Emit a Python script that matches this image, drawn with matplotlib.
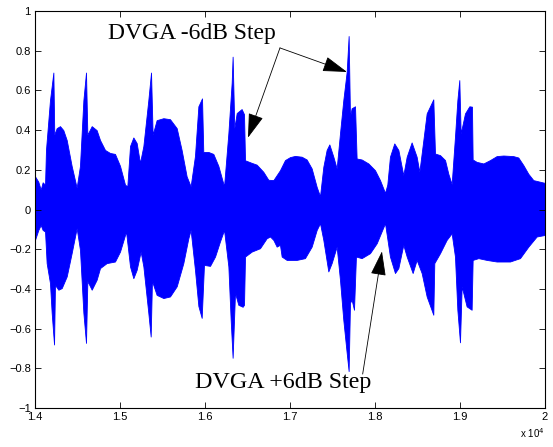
import numpy as np
import matplotlib
matplotlib.use('Agg')
import matplotlib.pyplot as plt

# envelope of the signal, x in units of 1e4 samples
x_top = [1.4, 1.4039, 1.4067, 1.4090, 1.4118, 1.4129, 1.4176, 1.4216, 1.4227, 1.4255, 1.4294,
         1.4333, 1.4373, 1.4431, 1.4490, 1.4529, 1.4569, 1.4600, 1.4616, 1.4667, 1.4725,
         1.4765, 1.4824, 1.4882, 1.4941, 1.5000, 1.5059, 1.5086, 1.5118, 1.5157, 1.5196,
         1.5235, 1.5275, 1.5333, 1.5365, 1.5384, 1.5431, 1.5510, 1.5588, 1.5667, 1.5725,
         1.5784, 1.5831, 1.5882, 1.5922, 1.5965, 1.5980, 1.6039, 1.6098, 1.6157, 1.6224,
         1.6275, 1.6314, 1.6325, 1.6345, 1.6373, 1.6431, 1.6459, 1.6471, 1.6549, 1.6608,
         1.6686, 1.6745, 1.6804, 1.6882, 1.6941, 1.7000, 1.7059, 1.7137, 1.7196, 1.7255,
         1.7314, 1.7353, 1.7392, 1.7431, 1.7463, 1.7510, 1.7549, 1.7588, 1.7627, 1.7667,
         1.7690, 1.7706, 1.7725, 1.7765, 1.7784, 1.7843, 1.7922, 1.8000, 1.8059, 1.8118,
         1.8145, 1.8176, 1.8227, 1.8275, 1.8333, 1.8373, 1.8431, 1.8490, 1.8522, 1.8569,
         1.8608, 1.8686, 1.8706, 1.8765, 1.8824, 1.8863, 1.8902, 1.8941, 1.8969, 1.8992,
         1.9008, 1.9059, 1.9110, 1.9141, 1.9149, 1.9196, 1.9275, 1.9353, 1.9431, 1.9510,
         1.9627, 1.9686, 1.9745, 1.9804, 1.9863, 1.9941, 2.0]
top = [0.167, 0.14, 0.10, 0.137, 0.125, 0.30, 0.55, 0.69, 0.377, 0.41, 0.42,
       0.40, 0.35, 0.22, 0.11, 0.22, 0.55, 0.69, 0.377, 0.42, 0.40,
       0.35, 0.30, 0.285, 0.28, 0.22, 0.125, 0.117, 0.32, 0.363, 0.335,
       0.235, 0.32, 0.55, 0.69, 0.377, 0.45, 0.46, 0.455, 0.41, 0.30,
       0.167, 0.117, 0.27, 0.52, 0.56, 0.29, 0.29, 0.28, 0.22, 0.117,
       0.385, 0.64, 0.77, 0.41, 0.486, 0.506, 0.48, 0.248, 0.235, 0.226,
       0.19, 0.15, 0.148, 0.198, 0.249, 0.264, 0.27, 0.266, 0.252, 0.207,
       0.114, 0.067, 0.215, 0.30, 0.328, 0.266, 0.207, 0.383, 0.55, 0.694,
       0.874, 0.467, 0.51, 0.52, 0.257, 0.252, 0.232, 0.198, 0.148, 0.084,
       0.126, 0.266, 0.333, 0.30, 0.173, 0.266, 0.338, 0.266, 0.19, 0.35,
       0.484, 0.555, 0.282, 0.274, 0.249, 0.18, 0.128, 0.366, 0.55, 0.652,
       0.383, 0.484, 0.52, 0.518, 0.252, 0.24, 0.232, 0.249, 0.269, 0.272,
       0.269, 0.262, 0.224, 0.18, 0.148, 0.14, 0.134]

x_bot = [1.4, 1.4039, 1.4067, 1.4090, 1.4118, 1.4137, 1.4176, 1.4196, 1.4224, 1.4235, 1.4275,
         1.4314, 1.4373, 1.4431, 1.4490, 1.4529, 1.4569, 1.4600, 1.4616, 1.4667, 1.4725,
         1.4765, 1.4843, 1.4941, 1.5000, 1.5071, 1.5118, 1.5157, 1.5196, 1.5243, 1.5275,
         1.5333, 1.5361, 1.5376, 1.5431, 1.5510, 1.5588, 1.5667, 1.5745, 1.5804, 1.5831,
         1.5882, 1.5922, 1.5961, 1.5988, 1.6059, 1.6118, 1.6176, 1.6224, 1.6275, 1.6302,
         1.6325, 1.6353, 1.6392, 1.6443, 1.6459, 1.6471, 1.6549, 1.6647, 1.6725, 1.6804,
         1.6882, 1.6765, 1.6843, 1.6902, 1.6961, 1.7078, 1.7176, 1.7255, 1.7314, 1.7353,
         1.7392, 1.7451, 1.7490, 1.7549, 1.7588, 1.7627, 1.7667, 1.7690, 1.7706, 1.7725,
         1.7753, 1.7776, 1.7843, 1.7941, 1.8020, 1.8118, 1.8176, 1.8235, 1.8275, 1.8333,
         1.8373, 1.8443, 1.8490, 1.8549, 1.8608, 1.8686, 1.8698, 1.8765, 1.8843, 1.8902,
         1.8941, 1.8969, 1.9000, 1.9020, 1.9078, 1.9137, 1.9149, 1.9216, 1.9314, 1.9431,
         1.9588, 1.9706, 1.9804, 1.9902, 2.0]
bot = [-0.153, -0.103, -0.078, -0.103, -0.111, -0.27, -0.37, -0.52, -0.68, -0.38, -0.404,
       -0.396, -0.337, -0.22, -0.094, -0.203, -0.52, -0.672, -0.36, -0.404, -0.354,
       -0.295, -0.27, -0.262, -0.212, -0.111, -0.287, -0.346, -0.304, -0.212, -0.287,
       -0.52, -0.64, -0.36, -0.43, -0.446, -0.438, -0.387, -0.27, -0.145, -0.103,
       -0.304, -0.486, -0.546, -0.279, -0.284, -0.237, -0.161, -0.103, -0.287, -0.555,
       -0.747, -0.42, -0.48, -0.49, -0.48, -0.237, -0.212, -0.195, -0.145, -0.153,
       -0.178, -0.136, -0.187, -0.237, -0.254, -0.254, -0.245, -0.187, -0.103, -0.069,
       -0.153, -0.312, -0.27, -0.187, -0.354, -0.555, -0.722, -0.814, -0.47, -0.454,
       -0.505, -0.237, -0.245, -0.22, -0.17, -0.069, -0.237, -0.32, -0.295, -0.178,
       -0.237, -0.32, -0.254, -0.32, -0.438, -0.53, -0.27, -0.22, -0.153, -0.12,
       -0.237, -0.505, -0.669, -0.387, -0.488, -0.505, -0.254, -0.245, -0.254, -0.262,
       -0.262, -0.245, -0.187, -0.136, -0.128]

# the two points at 1.6882 / 1.6765 are out of order in x_bot, fix by sorting
order = np.argsort(x_bot, kind='stable')
x_bot = np.array(x_bot)[order]
bot = np.array(bot)[order]

xticks = [1.4, 1.5, 1.6, 1.7, 1.8, 1.9, 2.0]
xtick_labels = ['1.4', '1.5', '1.6', '1.7', '1.8', '1.9', '2']
yticks = [-1, -0.8, -0.6, -0.4, -0.2, 0, 0.2, 0.4, 0.6, 0.8, 1]
ytick_labels = ['\u22121', '\u22120.8', '\u22120.6', '\u22120.4', '\u22120.2', '0',
                '0.2', '0.4', '0.6', '0.8', '1']

plt.rcParams['font.family'] = ['Liberation Sans', 'DejaVu Sans']

fig = plt.figure(figsize=(5.53, 4.47), dpi=100)
ax = fig.add_axes([0.0633, 0.0872, 0.9222, 0.8882])

blue = '#0000ff'
ax.fill_between(x_top, 0, top, color=blue, lw=0.6, edgecolor=blue)
ax.fill_between(x_bot, bot, 0, color=blue, lw=0.6, edgecolor=blue)

ax.set_xlim(1.4, 2.0)
ax.set_ylim(-1, 1)
ax.set_xticks(xticks)
ax.set_xticklabels(xtick_labels)
ax.set_yticks(yticks)
ax.set_yticklabels(ytick_labels)
ax.tick_params(direction='in', length=4, width=0.6, labelsize=8, top=True, right=True, pad=3)
for s in ax.spines.values():
    s.set_linewidth(0.8)

fig.text(0.985, 0.015, 'x 10$^4$', ha='right', va='bottom', fontsize=7)

serif = ['Liberation Serif', 'DejaVu Serif']
arrow = dict(arrowstyle='-|>,head_length=0.7,head_width=0.22', color='black', lw=0.6,
             mutation_scale=22, shrinkA=0, shrinkB=0)

ax.text(1.4859, 0.889, 'DVGA -6dB Step', family=serif, fontsize=17, ha='left', va='center')
ax.annotate('', xy=(1.6506, 0.362), xytext=(1.6882, 0.814), arrowprops=arrow)
ax.annotate('', xy=(1.767, 0.693), xytext=(1.6882, 0.814), arrowprops=arrow)

ax.text(1.588, -0.869, 'DVGA +6dB Step', family=serif, fontsize=17.3, ha='left', va='center')
ax.annotate('', xy=(1.8082, -0.211), xytext=(1.7855, -0.829), arrowprops=arrow)

fig.savefig('out.png', dpi=100)
